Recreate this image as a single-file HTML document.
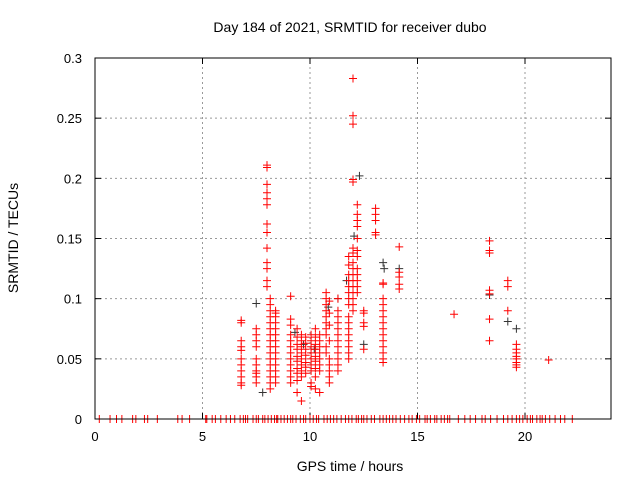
<!DOCTYPE html>
<html><head><meta charset="utf-8"><style>
body{margin:0;background:#fff;}
svg{display:block;font-family:"Liberation Sans",sans-serif;}
</style></head><body>
<svg id="chart" width="640" height="480" viewBox="0 0 640 480">
<rect width="640" height="480" fill="#fff"/>
<g id="grid"></g>
<g id="ticks"></g>
<g id="marks"></g>
<rect x="95" y="58" width="516" height="361" fill="none" stroke="#000" stroke-width="1"/>
<text x="350" y="32" font-size="14" text-anchor="middle">Day 184 of 2021, SRMTID for receiver dubo</text>
<text x="350" y="471" font-size="14" text-anchor="middle">GPS time / hours</text>
<text x="18" y="238" font-size="14" text-anchor="middle" transform="rotate(-90 18 238)">SRMTID / TECUs</text>
</svg>
<script>
const xTicks=[0,5,10,15,20];
const yTicks=[0,0.05,0.1,0.15,0.2,0.25,0.3];
const yTickLabels=["0","0.05","0.1","0.15","0.2","0.25","0.3"];
const redColHours=[6.8,7.5,8.0,8.15,8.4,9.1,9.4,9.6,9.8,10.05,10.25,10.45,10.75,10.9,11.3,11.8,12.0,12.2,12.5,13.05,13.4,14.15,16.7,18.35,19.2,19.6,21.1];
const redColValues=[
[0.08,0.082,0.065,0.06,0.057,0.05,0.045,0.04,0.035,0.03,0.028],
[0.075,0.07,0.065,0.06,0.05,0.045,0.04,0.035,0.03,0.038],
[0.211,0.209,0.195,0.188,0.183,0.178,0.162,0.155,0.142,0.13,0.125,0.115,0.11],
[0.1,0.095,0.09,0.085,0.08,0.075,0.07,0.065,0.06,0.055,0.05,0.045,0.04,0.035,0.03,0.025],
[0.09,0.088,0.085,0.08,0.075,0.07,0.065,0.06,0.055,0.05,0.045,0.04,0.035,0.03],
[0.102,0.083,0.078,0.07,0.065,0.06,0.055,0.05,0.045,0.04,0.035,0.03],
[0.075,0.068,0.062,0.058,0.052,0.048,0.042,0.038,0.032,0.022],
[0.07,0.065,0.06,0.055,0.05,0.045,0.04,0.035,0.015],
[0.068,0.063,0.058,0.053,0.047,0.043,0.038],
[0.07,0.065,0.06,0.055,0.05,0.045,0.04,0.03,0.027],
[0.075,0.068,0.062,0.058,0.052,0.048,0.042,0.035,0.025],
[0.07,0.065,0.06,0.055,0.05,0.045,0.04,0.022],
[0.105,0.1,0.095,0.09,0.085,0.08,0.075,0.07,0.06,0.055],
[0.098,0.088,0.078,0.065,0.05,0.045,0.04,0.035,0.03],
[0.1,0.09,0.085,0.08,0.075,0.07,0.065,0.06,0.055,0.05,0.045,0.04],
[0.135,0.128,0.12,0.115,0.11,0.105,0.1,0.095,0.085,0.08,0.075,0.07,0.065,0.06,0.055,0.05],
[0.283,0.252,0.245,0.199,0.197,0.142,0.138,0.13,0.125,0.12,0.115,0.11,0.105,0.1,0.095,0.09],
[0.178,0.17,0.165,0.16,0.15,0.14,0.135,0.125,0.12,0.115,0.11,0.105],
[0.09,0.088,0.08,0.077,0.058],
[0.175,0.17,0.165,0.155,0.153],
[0.113,0.112,0.1,0.095,0.09,0.085,0.08,0.075,0.07,0.065,0.06,0.055,0.05,0.047],
[0.143,0.122,0.118,0.112,0.108],
[0.087],
[0.148,0.14,0.138,0.107,0.104,0.083,0.065],
[0.115,0.11,0.09],
[0.062,0.058,0.055,0.052,0.05,0.047,0.045,0.043],
[0.049]];
const blackHours=[7.5,7.8,9.3,9.7,10.2,10.85,11.3,11.7,12.05,12.3,12.5,13.4,13.45,14.15,18.35,19.2,19.6];
const blackValues=[0.096,0.022,0.072,0.062,0.058,0.093,0.1,0.115,0.152,0.202,0.062,0.13,0.125,0.125,0.103,0.081,0.075];
const zeroHours=[0.2,0.7,1.0,1.25,1.75,1.9,2.3,2.45,2.9,3.85,4.05,4.4,5.15,5.2,5.45,5.6,5.85,6.1,6.3,6.5,6.75,6.9,7.0,7.1,7.35,7.5,7.6,7.8,7.9,8.05,8.2,8.35,8.45,8.5,8.65,8.8,8.95,9.1,9.2,9.35,9.55,9.7,9.8,10.0,10.15,10.3,10.4,10.65,10.8,10.95,11.1,11.25,11.45,11.65,11.8,11.95,12.15,12.25,12.4,12.5,12.65,12.85,13.0,13.25,13.4,13.55,13.7,13.85,14.0,14.2,14.4,14.6,14.75,14.95,15.1,15.35,15.45,15.6,15.8,15.9,16.1,16.25,16.4,16.5,16.9,17.2,17.45,17.7,18.0,18.15,18.4,18.7,19.0,19.2,19.4,19.6,19.75,19.9,20.1,20.25,20.35,20.55,20.7,20.8,20.95,21.15,21.4,21.65,21.85,22.2];
const X0=95,X1=611,Y0=419,Y1=58;
const sx=h=>X0+h/24*(X1-X0);
const sy=v=>Y0-v/0.3*(Y0-Y1);
const NS='http://www.w3.org/2000/svg';
function mk(tag,attrs,parent){const e=document.createElementNS(NS,tag);for(const k in attrs)e.setAttribute(k,attrs[k]);parent.appendChild(e);return e;}
const grid=document.getElementById('grid'),ticks=document.getElementById('ticks'),marks=document.getElementById('marks');
xTicks.forEach(t=>{const x=sx(t);
 if(t>0){const g=mk('line',{x1:x,x2:x,y1:Y0,y2:Y1,stroke:'#999','stroke-dasharray':'2,3'},grid);
 
 }
 mk('line',{x1:x,x2:x,y1:Y0,y2:Y0-6,stroke:'#000'},ticks);
 mk('line',{x1:x,x2:x,y1:Y1,y2:Y1+6,stroke:'#000'},ticks);
 const l=mk('text',{x:x,y:Y0+22,'font-size':13,'text-anchor':'middle'},ticks);l.textContent=String(t);
 
 
});
yTicks.forEach((t,i)=>{const y=sy(t);
 if(t>0&&t<0.3){const g=mk('line',{x1:X0,x2:X1,y1:y,y2:y,stroke:'#999','stroke-dasharray':'2,3'},grid);
 
 }
 mk('line',{x1:X0,x2:X0+6,y1:y,y2:y,stroke:'#000'},ticks);
 mk('line',{x1:X1,x2:X1-6,y1:y,y2:y,stroke:'#000'},ticks);
 const l=mk('text',{x:X0-13,y:y+5,'font-size':13,'text-anchor':'end'},ticks);l.textContent=yTickLabels[i];
 
 
});
function plus(h,v,col,name){const x=sx(h),y=sy(v);
 const p=mk('path',{d:`M${x-4} ${y}H${x+4}M${x} ${y-4}V${y+4}`,stroke:col,'stroke-width':1,fill:'none'},marks);
 
 
}
zeroHours.forEach(h=>plus(h,0,'#ff0000','zero-point'));
blackHours.forEach((h,i)=>plus(h,blackValues[i],'#333','black-point'));
redColHours.forEach((h,i)=>redColValues[i].forEach(v=>plus(h,v,'#ff0000','red-point')));
</script>
</body></html>
